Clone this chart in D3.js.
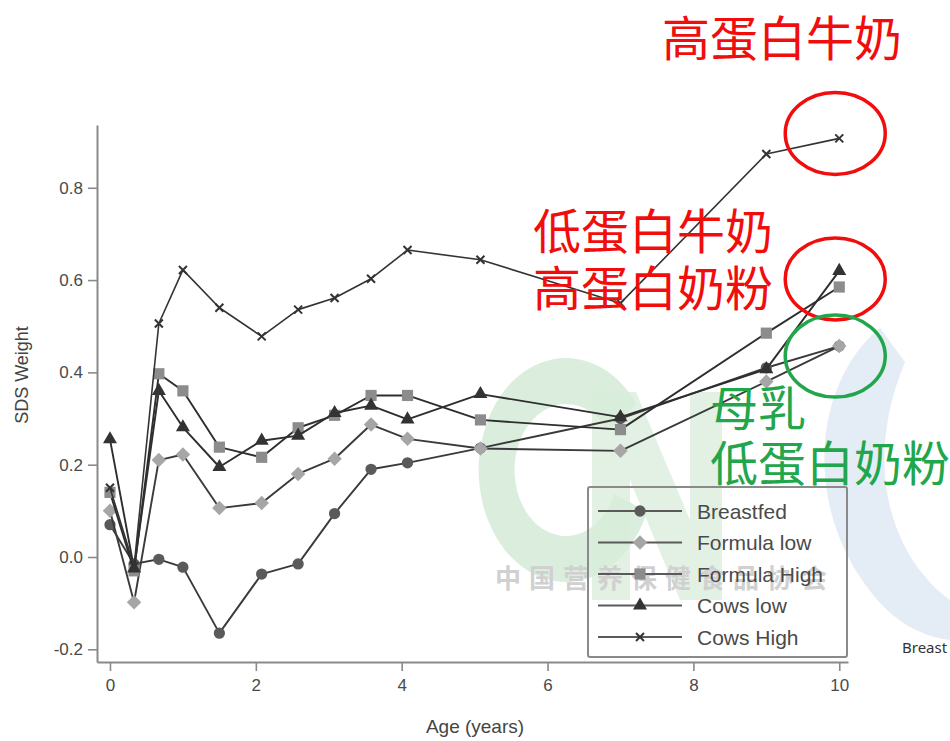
<!DOCTYPE html>
<html>
<head>
<meta charset="utf-8">
<script src="https://cdn.jsdelivr.net/npm/d3@7"></script>
<style>
  body { margin: 0; background: #fff; }
  svg { display: block; }
</style>
</head>
<body>
<svg id="chart" width="950" height="741"></svg>
<script>
// Measurement ages (years)
const ages = [0, 0.33, 0.67, 1, 1.5, 2.08, 2.58, 3.08, 3.58, 4.08, 5.08, 7, 9, 10];

// SDS weight per feeding group
const breastfed   = [0.07, -0.015, -0.005, -0.022, -0.165, -0.037, -0.015, 0.094, 0.19, 0.204, 0.236, 0.30, 0.41, 0.457];
const formulaLow  = [0.10, -0.098, 0.21, 0.222, 0.106, 0.117, 0.18, 0.213, 0.287, 0.256, 0.235, 0.23, 0.38, 0.457];
const formulaHigh = [0.14, -0.03, 0.397, 0.36, 0.238, 0.216, 0.28, 0.307, 0.35, 0.35, 0.297, 0.276, 0.485, 0.585];
const cowsLow     = [0.255, -0.025, 0.36, 0.281, 0.195, 0.252, 0.263, 0.312, 0.328, 0.298, 0.353, 0.303, 0.407, 0.62];
const cowsHigh    = [0.15, -0.02, 0.506, 0.622, 0.54, 0.478, 0.536, 0.561, 0.603, 0.665, 0.644, 0.55, 0.873, 0.907];

const seriesNames = ["Breastfed", "Formula low", "Formula High", "Cows low", "Cows High"];

// Axis ticks
const xTicks = [0, 2, 4, 6, 8, 10];
const xTickLabels = ["0", "2", "4", "6", "8", "10"];
const yTicks = [-0.2, 0, 0.2, 0.4, 0.6, 0.8];
const yTickLabels = ["-0.2", "0.0", "0.2", "0.4", "0.6", "0.8"];

// Callout labels (Chinese)
const highCowLabel = "高蛋白牛奶";
const midLabels = ["低蛋白牛奶", "高蛋白奶粉"];
const lowLabels = ["母乳", "低蛋白奶粉"];
const watermarkText = "中国营养保健食品协会";

const svg = d3.select("#chart");

const x = d3.scaleLinear().domain([-0.178, 10.12]).range([97, 848]);
const y = d3.scaleLinear().domain([-0.2275, 0.936]).range([662, 125]);

// ---- faint background logo ----
const wm = svg.append("g").attr("class", "watermark");
wm.append("path")
  .attr("d", d3.arc()({innerRadius: 66, outerRadius: 112, startAngle: Math.PI * 0.62, endAngle: Math.PI * 2.3}))
  .attr("transform", "translate(566,470) scale(0.78,1)")
  .attr("fill", "#d5ebd8").attr("opacity", 0.85);
wm.append("path")
  .attr("d", "M592,392 L636,392 L690,520 L690,392 L722,392 L722,600 L680,600 L630,480 L630,600 L592,600 Z")
  .attr("fill", "#d8ecda").attr("opacity", 0.75);
wm.append("path")
  .attr("d", "M880,328 C810,385 800,520 885,608 C905,628 930,638 950,640 L950,600 C895,560 860,470 905,362 Z")
  .attr("fill", "#e1eaf4").attr("opacity", 0.9);
wm.append("text")
  .attr("x", 495).attr("y", 588)
  .attr("font-family", "Noto Sans CJK SC").attr("font-size", 26).attr("font-weight", 700)
  .attr("letter-spacing", 8)
  .attr("fill", "#d0d0d0")
  .text(watermarkText);

// ---- axes ----
const yAxis = d3.axisLeft(y).tickValues(yTicks).tickFormat((d, i) => yTickLabels[i])
  .tickSize(9).tickSizeOuter(0).tickPadding(5);
const gy = svg.append("g").attr("transform", "translate(97,0)").call(yAxis);
const xAxis = d3.axisBottom(x).tickValues(xTicks).tickFormat((d, i) => xTickLabels[i])
  .tickSize(9).tickSizeOuter(0).tickPadding(8);
const gx = svg.append("g").attr("transform", "translate(0,662)").call(xAxis);

[gx, gy].forEach(g => {
  g.select(".domain").attr("stroke", "#8a8a8a").attr("stroke-width", 2);
  g.selectAll(".tick line").attr("stroke", "#8a8a8a").attr("stroke-width", 1.6);
  g.selectAll(".tick text")
    .attr("font-family", "Liberation Sans, Arial, sans-serif")
    .attr("font-size", 17).attr("fill", "#4a4a4a");
});

svg.append("text")
  .attr("x", 475).attr("y", 733).attr("text-anchor", "middle")
  .attr("font-family", "Liberation Sans, Arial, sans-serif").attr("font-size", 19)
  .attr("fill", "#444").text("Age (years)");
svg.append("text")
  .attr("transform", "translate(28,375) rotate(-90)").attr("text-anchor", "middle")
  .attr("font-family", "Liberation Sans, Arial, sans-serif").attr("font-size", 18)
  .attr("fill", "#444").text("SDS Weight");

// ---- marker shapes ----
const markerDefs = [
  {lineColor: "#3a3a3a", fill: "#5a5a5a", path: d3.symbol(d3.symbolCircle, 100)(), rot: 0, stroke: null},
  {lineColor: "#3a3a3a", fill: "#a6a6a6", path: d3.symbol(d3.symbolSquare, 105)(), rot: 45, stroke: null},
  {lineColor: "#2e2e2e", fill: "#8c8c8c", path: d3.symbol(d3.symbolSquare, 125)(), rot: 0, stroke: null},
  {lineColor: "#2e2e2e", fill: "#333333", path: d3.symbol(d3.symbolTriangle, 85)(), rot: 0, stroke: null},
  {lineColor: "#333333", fill: "none", path: "M-4,-4L4,4M-4,4L4,-4", rot: 0, stroke: "#333"}
];

const allSeries = [breastfed, formulaLow, formulaHigh, cowsLow, cowsHigh];

const line = d3.line().x(d => x(d[0])).y(d => y(d[1]));

allSeries.forEach((vals, i) => {
  const m = markerDefs[i];
  const pts = ages.map((a, k) => [a, vals[k]]);
  const g = svg.append("g").attr("class", "series-" + i);
  g.append("path").datum(pts)
    .attr("d", line)
    .attr("fill", "none")
    .attr("stroke", m.lineColor)
    .attr("stroke-width", i === 4 ? 1.6 : 1.9)
    .attr("stroke-linejoin", "round");
  g.selectAll("path.mk").data(pts).join("path")
    .attr("class", "mk")
    .attr("d", m.path)
    .attr("transform", d => `translate(${x(d[0])},${y(d[1])}) rotate(${m.rot})`)
    .attr("fill", m.fill)
    .attr("stroke", m.stroke || "none")
    .attr("stroke-width", m.stroke ? 2 : 0);
});

// ---- legend ----
const lg = svg.append("g").attr("class", "legend");
lg.append("rect")
  .attr("x", 588).attr("y", 487).attr("width", 259).attr("height", 170)
  .attr("fill", "none").attr("stroke", "#8a8a8a").attr("stroke-width", 2).attr("rx", 2);
seriesNames.forEach((name, i) => {
  const m = markerDefs[i];
  const ly = 511 + i * 31.5;
  lg.append("line")
    .attr("x1", 598).attr("x2", 682).attr("y1", ly).attr("y2", ly)
    .attr("stroke", "#5a5a5a").attr("stroke-width", 1.8);
  lg.append("path")
    .attr("d", m.path)
    .attr("transform", `translate(640,${ly}) rotate(${m.rot})`)
    .attr("fill", m.fill)
    .attr("stroke", m.stroke || "none")
    .attr("stroke-width", m.stroke ? 2 : 0);
  lg.append("text")
    .attr("x", 697).attr("y", ly).attr("dy", "0.36em")
    .attr("font-family", "Liberation Sans, Arial, sans-serif").attr("font-size", 21)
    .attr("fill", "#4a4a4a").text(name);
});

// ---- callouts ----
const red = "#f20d0d", green = "#22a64b";
const cjk = "Noto Sans CJK SC, sans-serif";
svg.append("text").attr("x", 662).attr("y", 35).attr("dominant-baseline", "central")
  .attr("font-family", cjk).attr("font-size", 48).attr("fill", red).text(highCowLabel);
midLabels.forEach((t, i) => {
  svg.append("text").attr("x", 533).attr("y", 228 + i * 57).attr("dominant-baseline", "central")
    .attr("font-family", cjk).attr("font-size", 48).attr("fill", red).text(t);
});
lowLabels.forEach((t, i) => {
  svg.append("text").attr("x", 710).attr("y", 405 + i * 55).attr("dominant-baseline", "central")
    .attr("font-family", cjk).attr("font-size", 48).attr("fill", green).text(t);
});

// circles around the age-10 endpoints
const rings = [
  {v: cowsHigh[13], dy: -5, color: red},
  {v: (cowsLow[13] + formulaHigh[13]) / 2, dy: 0, color: red},
  {v: breastfed[13], dy: 10, color: green}
];
rings.forEach(r => {
  svg.append("ellipse")
    .attr("cx", x(10) - 4).attr("cy", y(r.v) + r.dy)
    .attr("rx", 50).attr("ry", 41)
    .attr("fill", "none").attr("stroke", r.color).attr("stroke-width", 3.5);
});

svg.append("text").attr("x", 902).attr("y", 653)
  .attr("font-family", "Noto Sans, sans-serif").attr("font-size", 15)
  .attr("fill", "#333").text("Breast");
</script>
</body>
</html>
